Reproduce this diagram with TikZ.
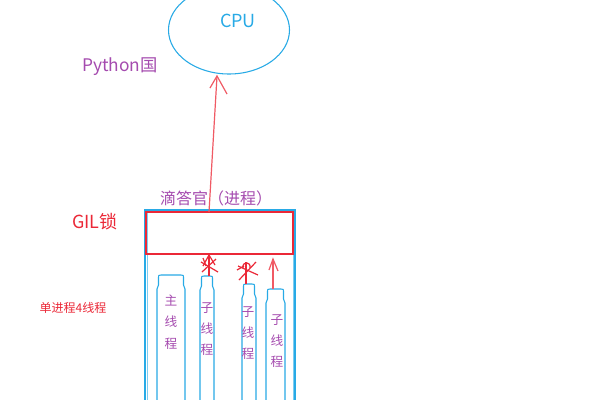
\documentclass[tikz,border=0pt]{standalone}
\usepackage{fontspec}
\setmainfont{Noto Sans CJK SC}
\usetikzlibrary{shapes.geometric}
\definecolor{skyb}{RGB}{40,170,230}
\definecolor{gilred}{RGB}{235,40,55}
\definecolor{arrred}{RGB}{240,90,100}
\definecolor{purp}{RGB}{165,75,175}
\tikzset{
  blueline/.style={draw=skyb, line width=0.8pt},
  redline/.style={draw=arrred, line width=0.9pt},
  purtext/.style={text=purp, inner sep=0pt},
  vtext/.style={text=purp, inner sep=0pt, font=\fontsize{9.5}{12}\selectfont, align=center}
}
\newcommand{\threadpath}[4]{% x1 x2 ytop name
  \draw[blueline] (#1,400) -- (#1,#3+14) -- (#1+1.5,#3+10) -- (#1+1.5,#3+4)
    .. controls (#1+1.5,#3) .. (#1+4,#3) -- (#2-4,#3)
    .. controls (#2-1.5,#3) .. (#2-1.5,#3+4) -- (#2-1.5,#3+10) -- (#2,#3+14) -- (#2,400);
  \coordinate (#4) at ({(#1+#2)/2},#3);
}
\begin{document}
\begin{tikzpicture}[x=0.75pt,y=-0.75pt]
\useasboundingbox (0,0) rectangle (600,400);
\fill[white] (0,0) rectangle (600,400);
% CPU
\node[ellipse, draw=skyb, line width=0.8pt, minimum width=121pt*0.75, minimum height=88pt*0.75, inner sep=0pt] (cpu) at (229,30) {};
\node[text=skyb, inner sep=0pt, font=\fontsize{13.5}{15}\selectfont] (cputxt) at (238,21) {CPU};
\node[purtext, font=\fontsize{13}{15}\selectfont] (py) at (120,67) {Python国};
% process
\node[purtext, font=\fontsize{12}{14}\selectfont] (proc) at (216,198) {滴答官（进程）};
\draw[blueline] (145,400) -- (145,210) -- (295,210) -- (295,400);
\draw[draw=skyb!60, line width=0.5pt] (147,400) -- (147,212) -- (293,212) -- (293,400);
\node[draw=gilred, line width=1pt, minimum width=147pt*0.75, minimum height=42pt*0.75, inner sep=0pt] (gil) at (219.5,233) {};
\node[text=gilred, inner sep=0pt, font=\fontsize{13.5}{15}\selectfont] (giltxt) at (95,222) {GIL锁};
\node[text=gilred, inner sep=0pt, font=\fontsize{9}{11}\selectfont] (single) at (73,308) {单进程4线程};
% main arrow
\coordinate (gtop) at (209,212);
\coordinate (ctip) at (217,76);
\draw[redline] (gtop) -- (ctip);
\draw[redline] (210,88) -- (ctip) -- (227,94);
% threads
\threadpath{157}{185}{275}{t1}
\threadpath{200}{214}{276}{t2}
\threadpath{242}{256}{284}{t3}
\threadpath{266}{285}{289}{t4}
\node[vtext] (l1) at (171,322) {主\\[4pt]线\\[4pt]程};
\node[vtext] (l2) at (207,329) {子\\[4pt]线\\[4pt]程};
\node[vtext] (l3) at (248,333) {子\\[4pt]线\\[4pt]程};
\node[vtext] (l4) at (277,341) {子\\[4pt]线\\[4pt]程};
% thread arrows
\coordinate (g2) at (209,255);
\coordinate (g3) at (246,262);
\coordinate (g4) at (273,259);
\draw[redline, draw=gilred] (t2 -| g2) -- (g2);
\draw[redline, draw=gilred] (203,266) -- (g2) -- (215,265);
\draw[redline, draw=gilred] (201,262) -- (218,272);
\draw[redline, draw=gilred] (202,272) -- (216,259);
\draw[redline, draw=gilred] (203,258) -- (206,266);
\draw[redline, draw=gilred] (t3 -| g3) -- (g3);
\draw[redline, draw=gilred] (243,268) .. controls (242,261) and (251,261) .. (250,268);
\draw[redline, draw=gilred] (238,266) -- (258,275);
\draw[redline, draw=gilred] (239,280) -- (256,262);
\draw[redline, draw=gilred] (237,270) -- (244,266);
\draw[redline] (t4 -| g4) -- (g4);
\draw[redline] (269,270) -- (g4) -- (278,271);
\end{tikzpicture}
\end{document}
